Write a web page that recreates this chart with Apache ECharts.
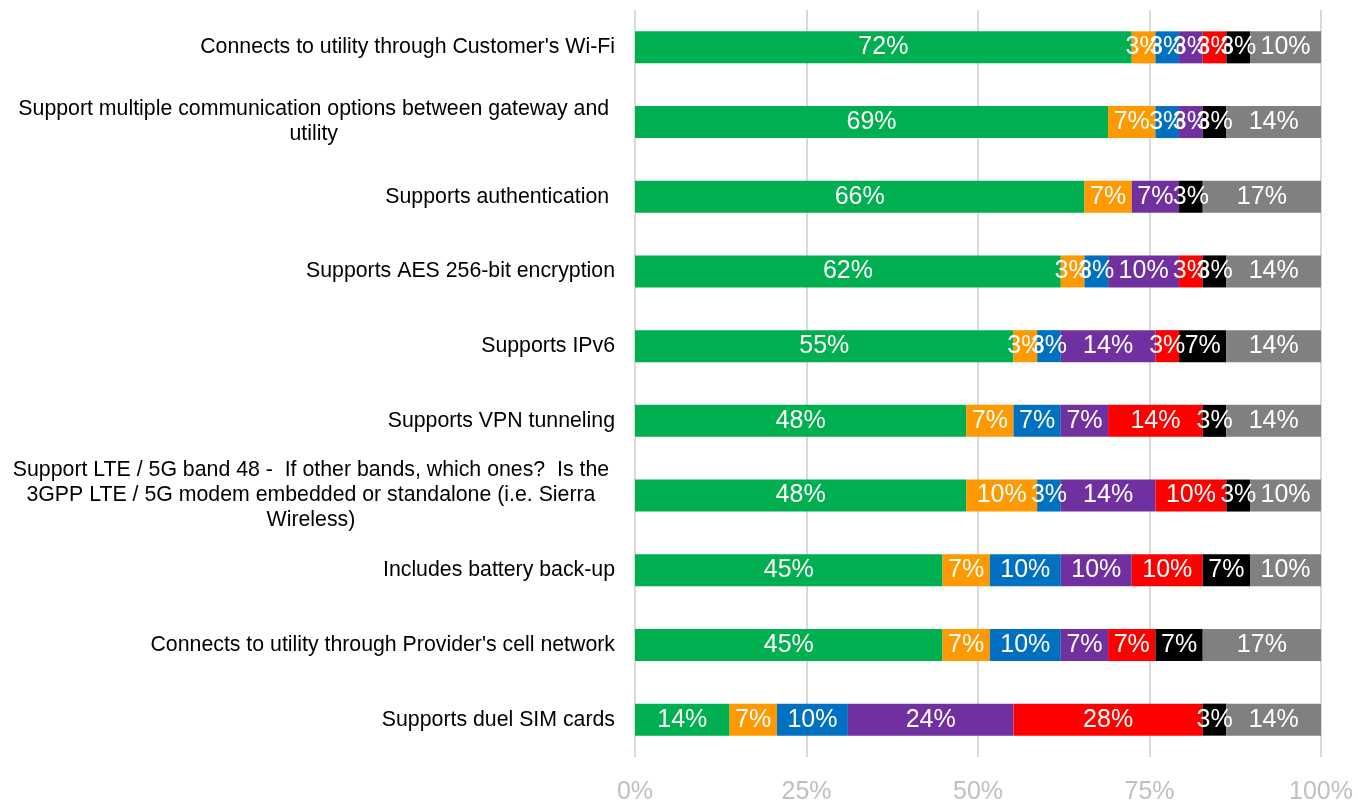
<!DOCTYPE html>
<html>
<head>
<meta charset="utf-8">
<script src="https://cdn.jsdelivr.net/npm/echarts@6/dist/echarts.min.js"></script>
<style>
  html, body { margin: 0; padding: 0; background: #ffffff; }
  #chart { width: 1358px; height: 805px; }
</style>
</head>
<body>
<div id="chart"></div>
<script>
// Categories, top to bottom
const categories = [
  "Connects to utility through Customer's Wi-Fi",
  "Support multiple communication options between gateway and \nutility ",
  "Supports authentication ",
  "Supports AES 256-bit encryption",
  "Supports IPv6",
  "Supports VPN tunneling",
  "Support LTE / 5G band 48 -  If other bands, which ones?  Is the \n3GPP LTE / 5G modem embedded or standalone (i.e. Sierra \nWireless) ",
  "Includes battery back-up",
  "Connects to utility through Provider's cell network",
  "Supports duel SIM cards"
];

// Number of respondents (labels are shares of this total)
const respondents = 29;

// Response counts per segment, in category order
const greenVals  = [21, 20, 19, 18, 16, 14, 14, 13, 13, 4];
const orangeVals = [1, 2, 2, 1, 1, 2, 3, 2, 2, 2];
const blueVals   = [1, 1, 0, 1, 1, 2, 1, 3, 3, 3];
const purpleVals = [1, 1, 2, 3, 4, 2, 4, 3, 2, 7];
const redVals    = [1, 0, 0, 1, 1, 4, 3, 3, 2, 8];
const blackVals  = [1, 1, 1, 1, 2, 1, 1, 2, 2, 1];
const grayVals   = [3, 4, 5, 4, 4, 4, 3, 3, 5, 4];

const tickValues = [0, 25, 50, 75, 100];

const seriesDefs = [
  { name: 'S1', color: '#00B050', vals: greenVals },
  { name: 'S2', color: '#FF9900', vals: orangeVals },
  { name: 'S3', color: '#0070C0', vals: blueVals },
  { name: 'S4', color: '#7030A0', vals: purpleVals },
  { name: 'S5', color: '#FF0000', vals: redVals },
  { name: 'S6', color: '#000000', vals: blackVals },
  { name: 'S7', color: '#808080', vals: grayVals }
];

const FONT = "'Liberation Sans', Arial, sans-serif";

const chart = echarts.init(document.getElementById('chart'), null, { renderer: 'canvas' });

const series = seriesDefs.map(s => ({
  name: s.name,
  type: 'bar',
  stack: 'total',
  barWidth: 32,
  itemStyle: { color: s.color },
  data: s.vals.map(v => v / respondents * 100),
  label: {
    show: true,
    position: 'inside',
    color: '#ffffff',
    fontFamily: FONT,
    fontSize: 25,
    formatter: p => p.value > 0 ? Math.round(p.value) + '%' : ''
  },
  emphasis: { disabled: true }
}));

chart.setOption({
  backgroundColor: '#ffffff',
  animation: false,
  grid: { left: 635, right: 37, top: 10, bottom: 45, containLabel: false },
  xAxis: {
    type: 'value',
    min: 0,
    max: 100,
    interval: 25,
    axisLine: { show: false },
    axisTick: { show: false },
    splitLine: { show: true, lineStyle: { color: '#d9d9d9', width: 2 } },
    axisLabel: {
      margin: 23,
      color: '#bfbfbf',
      fontFamily: FONT,
      fontSize: 25,
      formatter: v => tickValues.includes(v) ? v + '%' : ''
    }
  },
  yAxis: {
    type: 'category',
    inverse: true,
    data: categories,
    axisLine: { show: false },
    axisTick: { show: false },
    axisLabel: {
      margin: 20,
      align: 'right',
      color: '#000000',
      fontFamily: FONT,
      fontSize: 21.3,
      lineHeight: 25,
      formatter: v => {
        if (v.indexOf('\n') < 0) return v;
        return v.split('\n').map(l => '{m|' + l + '}').join('\n');
      },
      rich: {
        m: { align: 'center', fontFamily: FONT, fontSize: 21.3, lineHeight: 25, color: '#000000' }
      }
    }
  },
  series: series
});
</script>
</body>
</html>
